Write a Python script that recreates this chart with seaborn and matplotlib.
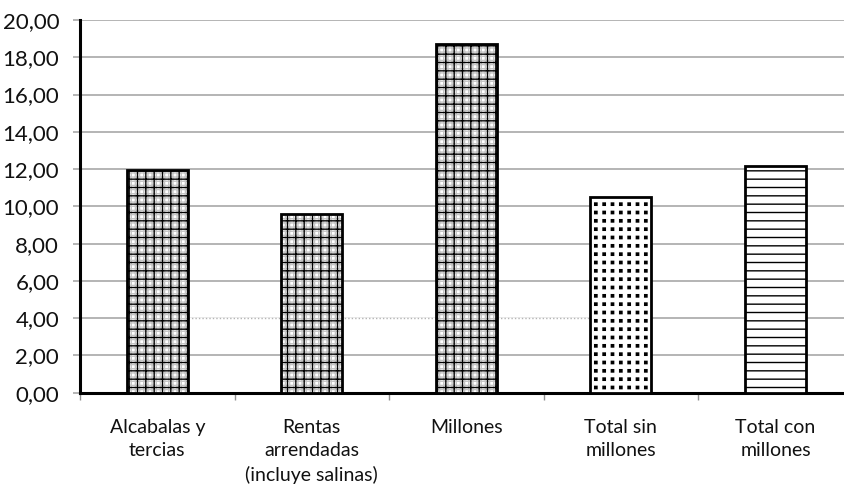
import numpy as np
import pandas as pd
import matplotlib
matplotlib.use("Agg")
import matplotlib.pyplot as plt
import matplotlib.hatch as mhatch
import matplotlib.patches as mpatches
from matplotlib.path import Path
from matplotlib.ticker import FuncFormatter
import seaborn as sns

# --- data -------------------------------------------------------------
categorias = [
    "Alcabalas y\ntercias",
    "Rentas\narrendadas\n(incluye salinas)",
    "Millones",
    "Total sin\nmillones",
    "Total con\nmillones",
]
valores = [11.95, 9.57, 18.70, 10.50, 12.17]
tramas = ["cuadricula", "cuadricula", "cuadricula", "puntos", "rayas"]
y_ticks = [0, 2, 4, 6, 8, 10, 12, 14, 16, 18, 20]


# '.' hatch drawn as small square dots on a regular grid
class SquareDots(mhatch.HatchPatternBase):
    def __init__(self, hatch, density):
        self.num_rows = hatch.count('.') * density
        self.num_vertices = 5 * self.num_rows ** 2

    def set_vertices_and_codes(self, vertices, codes):
        n = self.num_rows
        step = 1.0 / n
        h = 0.14 * step
        centers = (np.arange(n) + 0.5) * step
        cx, cy = np.meshgrid(centers, centers)
        c = np.column_stack([cx.ravel(), cy.ravel()])
        sq = np.array([[-h, -h], [h, -h], [h, h], [-h, h], [-h, -h]])
        vertices[:] = (c[:, None, :] + sq[None, :, :]).reshape(-1, 2)
        codes[:] = np.tile([Path.MOVETO, Path.LINETO, Path.LINETO,
                            Path.LINETO, Path.CLOSEPOLY], n * n)


mhatch._hatch_types = [SquareDots if t is mhatch.SmallFilledCircles else t
                       for t in mhatch._hatch_types]

sns.set_style("white")
plt.rcParams["font.family"] = ["Lato", "DejaVu Sans"]
plt.rcParams["hatch.linewidth"] = 1.0

df = pd.DataFrame({"categoria": categorias, "valor": valores})

W, H = 845, 487
fig = plt.figure(figsize=(W / 100, H / 100), dpi=100)
ax = fig.add_axes([80 / W, 1 - 392.7 / H, 1 - 80 / W, (392.7 - 20) / H])

sns.barplot(data=df, x="categoria", y="valor", ax=ax, width=0.394,
            color="white", saturation=1, edgecolor="black", linewidth=2.0,
            zorder=3)

bars = list(ax.patches)
for bar, trama in zip(bars, tramas):
    if trama == "cuadricula":
        # fine grey grid underneath, coarser black grid on top
        bar.set_hatch("++++")
        bar.set_edgecolor("#c4c4c4")
        bar.set_linewidth(0)
        capa = mpatches.Rectangle(bar.get_xy(), bar.get_width(), bar.get_height(),
                                  facecolor="none", edgecolor="black",
                                  hatch="++", linewidth=2.0, zorder=4)
        ax.add_patch(capa)
    elif trama == "puntos":
        bar.set_hatch("..")
    else:
        bar.set_hatch("--")
        bar.set_edgecolor("black")

# axes, ticks, grid
ax.set_ylim(0, 20)
ax.set_yticks(y_ticks)
ax.yaxis.set_major_formatter(FuncFormatter(lambda v, _: f"{v:.2f}".replace(".", ",")))
ax.set_xlim(-0.5, 4.45)
ax.set_xlabel("")
ax.set_ylabel("")

ax.set_axisbelow(True)
ax.grid(axis="y", color="#a0a0a0", linewidth=1.1)
ax.grid(axis="x", visible=False)

# the 4,00 gridline shows as a faint dotted run between the first and fourth bars
x0 = bars[0].get_x() + bars[0].get_width()
x1 = bars[3].get_x()
ax.plot([x0, x1], [4, 4], color="white", lw=1.8, zorder=1)
ax.plot([x0, x1], [4, 4], color="#b4b4b4", lw=1.0, ls=(0, (1, 1.5)), zorder=1.1)

ax.tick_params(axis="y", which="major", left=True, length=5, width=1.1,
               color="#a0a0a0", pad=10, labelsize=16, labelcolor="#111111")
ax.tick_params(axis="x", which="major", bottom=False, length=0, pad=19,
               labelsize=14, labelcolor="#111111")
ax.set_xticks(np.arange(-0.5, 4.0, 1.0), minor=True)
ax.tick_params(axis="x", which="minor", bottom=True, length=5, width=1.0,
               color="#909090")
for lab in ax.get_xticklabels():
    lab.set_linespacing(1.45)

for s in ["top", "right"]:
    ax.spines[s].set_visible(False)
for s in ["left", "bottom"]:
    ax.spines[s].set_color("black")
    ax.spines[s].set_linewidth(2.2)

fig.savefig("out.png", dpi=100)
